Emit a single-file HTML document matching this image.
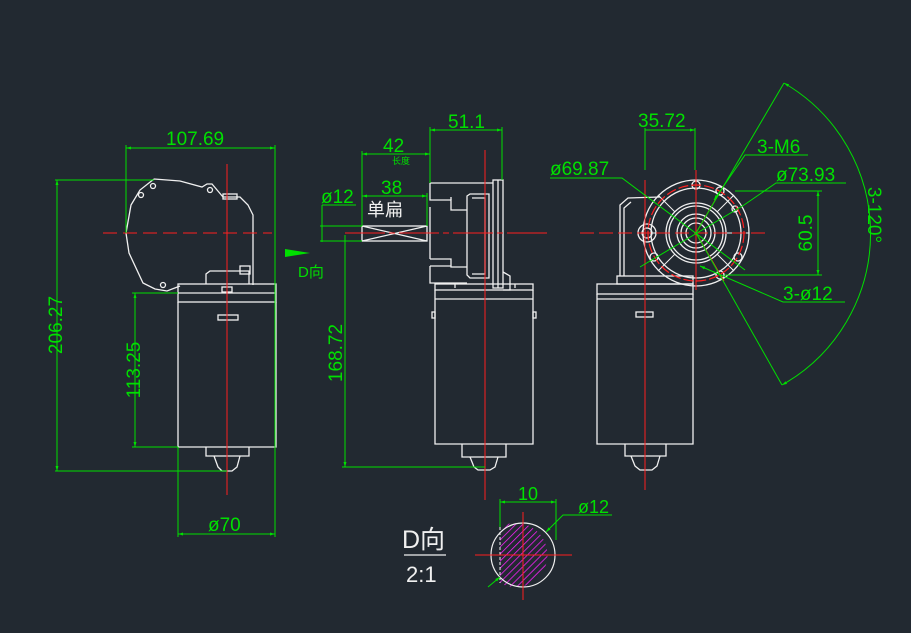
<!DOCTYPE html>
<html><head><meta charset="utf-8"><style>
html,body{margin:0;padding:0;background:#222931;}
svg{display:block}
text{font-family:"Liberation Sans","Noto Sans CJK SC",sans-serif;}
</style></head><body>
<svg width="911" height="633" viewBox="0 0 911 633" xmlns="http://www.w3.org/2000/svg">
<rect width="911" height="633" fill="#222931"/>
<defs>
<pattern id="h" width="5" height="5" patternUnits="userSpaceOnUse" patternTransform="rotate(45)">
<line x1="0" y1="0" x2="0" y2="5" stroke="#ff20ff" stroke-width="1.5"/>
</pattern>
<marker id="a" viewBox="0 0 10 10" refX="10" refY="5" markerWidth="8" markerHeight="5" orient="auto-start-reverse"><path d="M0,2 L10,5 L0,8z" fill="#00e000"/></marker>
</defs>

<!-- ========== LEFT VIEW ========== -->
<g fill="none" stroke="#f0f0f0" stroke-width="1.3">
<path d="M154,179 L180,181 L202,187 L207,184 L212,184 L223,197 L240,197 L248,205 L253,215 L253,285"/>
<path d="M154,179 L140,190 L131,205 L126,233 L129,253 L143,283 L155,289 L167,291 L180,286"/>
<circle cx="153" cy="186" r="2.5"/><circle cx="141" cy="195" r="2.5"/><circle cx="210" cy="190" r="2.5"/><circle cx="163" cy="285" r="2.5"/>
<rect x="223" y="194" width="14" height="5"/>
<path d="M206,284 L206,274 L210,271 L249,271 L249,284"/>
<rect x="240" y="266" width="10" height="8"/>
<rect x="178" y="284" width="98" height="18"/>
<line x1="178" y1="293" x2="276" y2="293"/>
<rect x="222" y="287" width="10" height="5"/>
<path d="M178,302 L178,447 L276,447 L276,302"/>
<rect x="218" y="315" width="20" height="5"/>
<path d="M206,447 L206,456 L249,456 L249,447"/>
<path d="M214,456 L218,467 L222,471 L232,471 L237,467 L240,456"/>
</g>
<line x1="227" y1="164" x2="227" y2="495" stroke="#ff2020" stroke-width="1"/>
<line x1="103" y1="233" x2="272" y2="233" stroke="#ff2020" stroke-width="1" stroke-dasharray="14,6"/>
<g stroke="#00e000" stroke-width="1" fill="none">
<line x1="126" y1="148" x2="275" y2="148" marker-start="url(#a)" marker-end="url(#a)"/>
<line x1="126" y1="145" x2="126" y2="233"/><line x1="275" y1="145" x2="275" y2="537"/>
<line x1="57" y1="180" x2="57" y2="471" marker-start="url(#a)" marker-end="url(#a)"/>
<line x1="55" y1="180" x2="154" y2="180"/><line x1="55" y1="471" x2="227" y2="471"/>
<line x1="135" y1="293" x2="135" y2="447" marker-start="url(#a)" marker-end="url(#a)"/>
<line x1="132" y1="293" x2="178" y2="293"/><line x1="132" y1="447" x2="178" y2="447"/>
<line x1="178" y1="534" x2="275" y2="534" marker-start="url(#a)" marker-end="url(#a)"/>
<line x1="178" y1="447" x2="178" y2="537"/>
</g>
<g fill="#00e000" font-size="19">
<text x="166" y="145">107.69</text>
<text x="62" y="325" transform="rotate(-90 62 325)" text-anchor="middle">206.27</text>
<text x="140" y="370" transform="rotate(-90 140 370)" text-anchor="middle">113.25</text>
<text x="208" y="531">ø70</text>
</g>

<!-- ========== MIDDLE VIEW ========== -->
<g fill="none" stroke="#f0f0f0" stroke-width="1.3">
<rect x="362" y="226" width="65" height="15"/>
<path d="M362,226 L427,241 M362,241 L427,226"/>
<path d="M430,183 L493,183 M430,183 L430,200 L451,200 L451,210 L467,210 M430,207 L430,259 M430,266 L430,283 L467,283"/>
<path d="M451,200 L451,197 M430,259 L451,259 L451,267 L467,267 M430,266 L451,266"/>
<path d="M467,196 L470,194 L489,194 L489,278 L470,278 L467,275 Z"/>
<path d="M472,198 L485,198 L485,274 L472,274"/>
<rect x="493" y="180" width="10" height="108"/>
<line x1="498" y1="180" x2="498" y2="288"/>
<path d="M503,272 L510,276 L510,290 L503,290"/>
<rect x="435" y="284" width="98" height="6"/>
<line x1="435" y1="299" x2="533" y2="299"/>
<path d="M435,290 L435,444 L533,444 L533,290"/>
<rect x="432" y="312" width="3" height="6"/><rect x="533" y="312" width="3" height="6"/>
<path d="M462,444 L462,457 L506,457 L506,444"/>
<path d="M470,457 L474,467 L478,470 L490,470 L495,467 L498,457"/>
<line x1="455" y1="288" x2="455" y2="284"/><line x1="515" y1="288" x2="515" y2="284"/>
</g>
<line x1="485" y1="150" x2="485" y2="500" stroke="#ff2020" stroke-width="1"/>
<line x1="345" y1="233" x2="548" y2="233" stroke="#ff2020" stroke-width="1" stroke-dasharray="40,4,6,4"/>
<g stroke="#00e000" stroke-width="1" fill="none">
<line x1="430" y1="130" x2="502" y2="130" marker-start="url(#a)" marker-end="url(#a)"/>
<line x1="430" y1="127" x2="430" y2="183"/><line x1="502" y1="127" x2="502" y2="180"/>
<line x1="362" y1="154" x2="430" y2="154" marker-start="url(#a)" marker-end="url(#a)"/>
<line x1="362" y1="151" x2="362" y2="226"/>
<line x1="362" y1="196" x2="427" y2="196" marker-start="url(#a)" marker-end="url(#a)"/>
<line x1="427" y1="193" x2="427" y2="226"/>
<line x1="322" y1="205" x2="356" y2="205"/>
<line x1="322" y1="205" x2="322" y2="242"/>
<line x1="320" y1="226" x2="362" y2="226"/><line x1="320" y1="241" x2="362" y2="241"/>
<line x1="345" y1="235" x2="345" y2="467" marker-end="url(#a)"/>
<line x1="342" y1="467" x2="485" y2="467"/>
</g>
<path d="M285,249 L310,253 L285,257 Z" fill="#00e000"/>
<g fill="#00e000">
<text x="448" y="128" font-size="19">51.1</text>
<text x="383" y="152" font-size="19">42</text>
<text x="392" y="164" font-size="9">长度</text>
<text x="381" y="194" font-size="19">38</text>
<text x="321" y="203" font-size="19">ø12</text>
<text x="298" y="277" font-size="15">D向</text>
<text x="342" y="353" font-size="19" transform="rotate(-90 342 353)" text-anchor="middle">168.72</text>
</g>
<text x="367" y="216" fill="#f0f0f0" font-size="18">单扁</text>

<!-- ========== RIGHT VIEW ========== -->
<g fill="none" stroke="#f0f0f0" stroke-width="1.3">
<path d="M620,276 L620,205 L628,198 L660,197"/>
<path d="M624,276 L624,208 L631,202"/>
<circle cx="647" cy="233" r="9"/><circle cx="647" cy="233" r="5"/>
<circle cx="696" cy="233" r="53"/>
<circle cx="696" cy="233" r="45"/>
<circle cx="696" cy="233" r="30"/><circle cx="696" cy="233" r="27"/>
<circle cx="696" cy="233" r="19"/><circle cx="696" cy="233" r="15"/><circle cx="696" cy="233" r="10"/>
<g stroke-width="1">
<path d="M696,180 L696,203 M749,233 L726,233 M643,233 L666,233 M696,286 L696,263"/>
<path d="M658,195 L675,212 M734,195 L717,212 M658,271 L675,254 M734,271 L717,254"/>
</g>
<circle cx="696" cy="185" r="4"/><circle cx="738" cy="257" r="4"/><circle cx="654" cy="257" r="4"/>
<circle cx="720" cy="191" r="4"/><circle cx="720" cy="275" r="4"/><circle cx="735" cy="209" r="3"/>
<rect x="617" y="276" width="76" height="8"/>
<rect x="597" y="284" width="96" height="10"/>
<path d="M597,294 L597,444 L693,444 L693,294"/>
<line x1="597" y1="299" x2="693" y2="299"/>
<rect x="636" y="312" width="17" height="5"/>
<path d="M625,444 L625,456 L666,456 L666,444"/>
<path d="M631,456 L635,466 L640,470 L652,470 L657,466 L660,456"/>
</g>
<circle cx="696" cy="233" r="48" fill="none" stroke="#ff2020" stroke-width="1.2" stroke-dasharray="10,3"/>
<g stroke="#ff2020" stroke-width="1">
<line x1="580" y1="233" x2="768" y2="233" stroke-dasharray="14,5"/>
<line x1="696" y1="170" x2="696" y2="290"/>
<line x1="645" y1="180" x2="645" y2="490"/>
<line x1="696" y1="233" x2="724" y2="185"/><line x1="696" y1="233" x2="724" y2="281"/>
</g>
<g stroke="#00e000" stroke-width="1" fill="none">
<line x1="645" y1="130" x2="695" y2="130" marker-end="url(#a)"/>
<line x1="645" y1="128" x2="645" y2="170"/><line x1="695" y1="128" x2="695" y2="170"/>
<path d="M808,155 L745,155 L714,200" marker-end="url(#a)"/>
<path d="M846,183 L776,183 L744,205"/><line x1="744" y1="205" x2="640" y2="267"/>
<path d="M550,178 L622,178 L745,270"/>
<line x1="735" y1="191" x2="822" y2="191"/><line x1="725" y1="275" x2="822" y2="275"/>
<line x1="818" y1="191" x2="818" y2="275" marker-start="url(#a)" marker-end="url(#a)"/>
<path d="M845,302 L783,302 L700,266" marker-end="url(#a)"/>
<line x1="696" y1="233" x2="784" y2="83"/><line x1="696" y1="233" x2="782" y2="385"/>
<path d="M784,83 A174,174 0 0 1 782,385" marker-start="url(#a)" marker-end="url(#a)"/>
</g>
<g fill="#00e000" font-size="19">
<text x="638" y="127">35.72</text>
<text x="757" y="153">3-M6</text>
<text x="776" y="181">ø73.93</text>
<text x="550" y="175">ø69.87</text>
<text x="812" y="233" transform="rotate(-90 812 233)" text-anchor="middle">60.5</text>
<text x="783" y="300">3-ø12</text>
<text x="868" y="215" transform="rotate(90 868 215)" text-anchor="middle">3-120°</text>
</g>

<!-- ========== D VIEW ========== -->
<path d="M500,527 A32,32 0 1 1 500,583 Z" fill="url(#h)" stroke="none"/>
<circle cx="523" cy="555" r="32" fill="none" stroke="#f0f0f0" stroke-width="1.2"/>
<line x1="500" y1="527" x2="500" y2="583" stroke="#f0f0f0" stroke-width="1" stroke-dasharray="3,2"/>
<g stroke="#ff2020" stroke-width="1">
<line x1="475" y1="555" x2="572" y2="555"/><line x1="523" y1="512" x2="523" y2="600"/>
</g>
<g stroke="#00e000" stroke-width="1" fill="none">
<line x1="500" y1="502" x2="556" y2="502" marker-start="url(#a)" marker-end="url(#a)"/>
<line x1="500" y1="499" x2="500" y2="527"/><line x1="556" y1="499" x2="556" y2="540"/>
<path d="M612,515 L563,515 L546,532" marker-end="url(#a)"/>
<line x1="488" y1="587" x2="500" y2="577" marker-end="url(#a)"/>
</g>
<g fill="#00e000" font-size="18">
<text x="518" y="500">10</text>
<text x="578" y="513">ø12</text>
</g>
<g fill="#f0f0f0">
<text x="402" y="548" font-size="25">D向</text>
<line x1="404" y1="555" x2="446" y2="555" stroke="#f0f0f0" stroke-width="1.2"/>
<text x="406" y="582" font-size="22">2:1</text>
</g>
</svg>
</body></html>
